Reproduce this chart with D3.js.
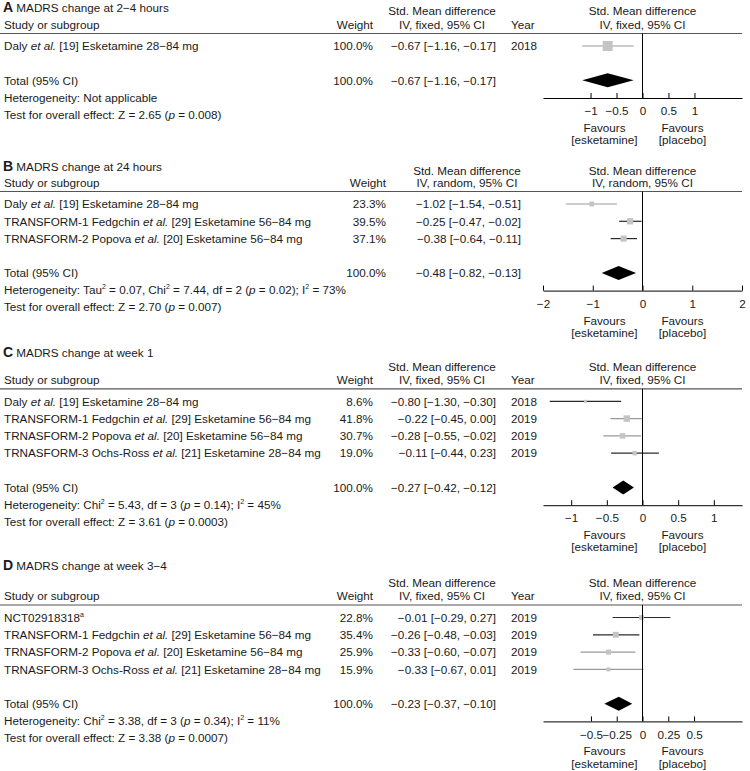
<!DOCTYPE html>
<html>
<head>
<meta charset="utf-8">
<script src="https://cdn.jsdelivr.net/npm/d3@7"></script>
<style>
  body { margin: 0; background: #fff; }
  svg  { display: block; font-family: "Liberation Sans", Arial, sans-serif; font-size: 11.7px; fill: #1a1a1a; }
</style>
</head>
<body>
<svg id="chart" width="750" height="771"></svg>
<script>
// ---- data ----
// *text* = italic, ^text^ = superscript
const titleA   = 'MADRS change at 2−4 hours';
const studiesA = ['Daly *et al.* [19] Esketamine 28−84 mg'];
const weightsA = [100.0];
const smdA     = [-0.67];
const lowA     = [-1.16];
const highA    = [-0.17];
const yearsA   = [2018];
const totalA   = [100.0, -0.67, -1.16, -0.17];   // weight, estimate, low, high
const hetA     = 'Heterogeneity: Not applicable';
const testA    = 'Test for overall effect: Z = 2.65 (*p* = 0.008)';
const ticksA   = [-1, -0.5, 0, 0.5, 1];

const titleB   = 'MADRS change at 24 hours';
const studiesB = ['Daly *et al.* [19] Esketamine 28−84 mg',
                  'TRANSFORM-1 Fedgchin *et al.* [29] Esketamine 56−84 mg',
                  'TRNASFORM-2 Popova *et al.* [20] Esketamine 56−84 mg'];
const weightsB = [23.3, 39.5, 37.1];
const smdB     = [-1.02, -0.25, -0.38];
const lowB     = [-1.54, -0.47, -0.64];
const highB    = [-0.51, -0.02, -0.11];
const totalB   = [100.0, -0.48, -0.82, -0.13];
const hetB     = 'Heterogeneity: Tau^2^ = 0.07, Chi^2^ = 7.44, df = 2 (*p* = 0.02); I^2^ = 73%';
const testB    = 'Test for overall effect: Z = 2.70 (*p* = 0.007)';
const ticksB   = [-2, -1, 0, 1, 2];

const titleC   = 'MADRS change at week 1';
const studiesC = ['Daly *et al.* [19] Esketamine 28−84 mg',
                  'TRANSFORM-1 Fedgchin *et al.* [29] Esketamine 56−84 mg',
                  'TRNASFORM-2 Popova *et al.* [20] Esketamine 56−84 mg',
                  'TRNASFORM-3 Ochs-Ross *et al.* [21] Esketamine 28−84 mg'];
const weightsC = [8.6, 41.8, 30.7, 19.0];
const smdC     = [-0.80, -0.22, -0.28, -0.11];
const lowC     = [-1.30, -0.45, -0.55, -0.44];
const highC    = [-0.30, 0.00, -0.02, 0.23];
const yearsC   = [2018, 2019, 2019, 2019];
const totalC   = [100.0, -0.27, -0.42, -0.12];
const hetC     = 'Heterogeneity: Chi^2^ = 5.43, df = 3 (*p* = 0.14); I^2^ = 45%';
const testC    = 'Test for overall effect: Z = 3.61 (*p* = 0.0003)';
const ticksC   = [-1, -0.5, 0, 0.5, 1];

const titleD   = 'MADRS change at week 3−4';
const studiesD = ['NCT02918318^a^',
                  'TRANSFORM-1 Fedgchin *et al.* [29] Esketamine 56−84 mg',
                  'TRNASFORM-2 Popova *et al.* [20] Esketamine 56−84 mg',
                  'TRNASFORM-3 Ochs-Ross *et al.* [21] Esketamine 28−84 mg'];
const weightsD = [22.8, 35.4, 25.9, 15.9];
const smdD     = [-0.01, -0.26, -0.33, -0.33];
const lowD     = [-0.29, -0.48, -0.60, -0.67];
const highD    = [0.27, -0.03, -0.07, 0.01];
const yearsD   = [2019, 2019, 2019, 2019];
const totalD   = [100.0, -0.23, -0.37, -0.10];
const hetD     = 'Heterogeneity: Chi^2^ = 3.38, df = 3 (*p* = 0.34); I^2^ = 11%';
const testD    = 'Test for overall effect: Z = 3.38 (*p* = 0.0007)';
const ticksD   = [-0.5, -0.25, 0, 0.25, 0.5];

// ---- layout / style per panel ----
const panels = [
  { letter: 'A', title: titleA, studies: studiesA, weights: weightsA, smd: smdA, low: lowA, high: highA,
    years: yearsA, total: totalA, het: hetA, test: testA, ticks: ticksA, method: 'IV, fixed, 95% CI',
    domain: [-1.915, 1.915], titleY: 7.5, hdrY: 10.5, sep: 33.5, wRight: 373, ciRight: 496, ciMid: 442,
    greyCI: [0] },
  { letter: 'B', title: titleB, studies: studiesB, weights: weightsB, smd: smdB, low: lowB, high: highB,
    years: null, total: totalB, het: hetB, test: testB, ticks: ticksB, method: 'IV, random, 95% CI',
    domain: [-2, 2], titleY: 166.7, hdrY: 170.5, sep: 191.5, wRight: 386, ciRight: 521, ciMid: 467,
    greyCI: [0] },
  { letter: 'C', title: titleC, studies: studiesC, weights: weightsC, smd: smdC, low: lowC, high: highC,
    years: yearsC, total: totalC, het: hetC, test: testC, ticks: ticksC, method: 'IV, fixed, 95% CI',
    domain: [-1.395, 1.395], titleY: 353, hdrY: 366.5, sep: 388.8, wRight: 373, ciRight: 496, ciMid: 442,
    greyCI: [1, 2] },
  { letter: 'D', title: titleD, studies: studiesD, weights: weightsD, smd: smdD, low: lowD, high: highD,
    years: yearsD, total: totalD, het: hetD, test: testD, ticks: ticksD, method: 'IV, fixed, 95% CI',
    domain: [-0.965, 0.965], titleY: 566, hdrY: 583, sep: 605, wRight: 373, ciRight: 496, ciMid: 442,
    greyCI: [2, 3] }
];

const PLOT = [543, 742];   // forest plot span
const YEAR_X = 511;
const BASE = 4.2;          // centre -> baseline

const f2 = d3.format('.2f');
const f1 = d3.format('.1f');
const ciText = (e, l, h) => `${f2(e)} [${f2(l)}, ${f2(h)}]`;

// italic / superscript markup -> tspans
function rich(sel, str) {
  const parts = str.split(/(\*[^*]+\*|\^[^^]+\^)/).filter(s => s.length);
  let lift = 0;
  parts.forEach(p => {
    const t = sel.append('tspan');
    if (p[0] === '^') {
      t.text(p.slice(1, -1)).attr('font-size', 7).attr('dy', -5);
      lift = 5;
      return;
    }
    if (p[0] === '*') t.text(p.slice(1, -1)).attr('font-style', 'italic');
    else t.text(p);
    if (lift) { t.attr('dy', lift); lift = 0; }
  });
  return sel;
}

function label(g, x, y, str, anchor = 'start') {
  return rich(g.append('text').attr('x', x).attr('y', y + BASE).attr('text-anchor', anchor), str);
}

const svg = d3.select('#chart');

panels.forEach(p => {
  const g = svg.append('g');
  const n = p.studies.length;

  const x    = d3.scaleLinear().domain(p.domain).range(PLOT);
  const rowY = d3.scaleLinear().domain([0, 1]).range([p.sep + 12.5, p.sep + 29.8]);
  const box  = d3.scaleSqrt().domain([0, 100]).range([0, 10]);

  const totalY = rowY(n - 1) + 34.3;
  const hetY   = totalY + 17;
  const axisY  = totalY + 17.7;
  const hdr2   = p.sep - 9;

  // title
  const t = g.append('text').attr('x', 3).attr('y', p.titleY + BASE);
  t.append('tspan').attr('font-weight', 'bold').attr('font-size', 14).text(p.letter);
  t.append('tspan').text(' ' + p.title);

  // headers
  label(g, 4, hdr2, 'Study or subgroup');
  label(g, p.wRight, hdr2, 'Weight', 'end');
  label(g, p.ciMid, p.hdrY, 'Std. Mean difference', 'middle');
  label(g, p.ciMid, hdr2, p.method, 'middle');
  if (p.years) label(g, YEAR_X, hdr2, 'Year');
  label(g, x(0), p.hdrY, 'Std. Mean difference', 'middle');
  label(g, x(0), hdr2, p.method, 'middle');

  g.append('line')
    .attr('x1', 0).attr('x2', PLOT[1])
    .attr('y1', p.sep).attr('y2', p.sep)
    .attr('stroke', '#555').attr('stroke-width', 1.2);

  // study rows
  p.studies.forEach((s, i) => {
    const y = rowY(i);
    label(g, 4, y, s);
    label(g, p.wRight, y, f1(p.weights[i]) + '%', 'end');
    label(g, p.ciRight, y, ciText(p.smd[i], p.low[i], p.high[i]), 'end');
    if (p.years) label(g, YEAR_X, y, String(p.years[i]));

    g.append('line')
      .attr('x1', x(p.low[i])).attr('x2', x(p.high[i]))
      .attr('y1', y).attr('y2', y)
      .attr('stroke', p.greyCI.includes(i) ? '#9a9a9a' : '#2a2a2a')
      .attr('stroke-width', 1.2);
    const b = box(p.weights[i]);
    g.append('rect')
      .attr('x', x(p.smd[i]) - b / 2).attr('y', y - b / 2)
      .attr('width', b).attr('height', b)
      .attr('fill', '#c4c4c4');
  });

  // total row
  const [tw, te, tl, th] = p.total;
  label(g, 4, totalY, 'Total (95% CI)');
  label(g, p.wRight, totalY, f1(tw) + '%', 'end');
  label(g, p.ciRight, totalY, ciText(te, tl, th), 'end');
  g.append('path')
    .attr('d', d3.line()([[x(tl), totalY], [x(te), totalY - 7], [x(th), totalY], [x(te), totalY + 7]]) + 'Z')
    .attr('fill', '#000');

  label(g, 4, hetY, p.het);
  label(g, 4, hetY + 17, p.test);

  // zero line
  g.append('line')
    .attr('x1', x(0)).attr('x2', x(0))
    .attr('y1', p.sep).attr('y2', axisY)
    .attr('stroke', '#000').attr('stroke-width', 1);

  // axis
  const ax = g.append('g')
    .attr('transform', `translate(0,${axisY})`)
    .call(d3.axisBottom(x).tickValues(p.ticks).tickFormat(d3.format('~g'))
      .tickSize(-5).tickSizeOuter(0).tickPadding(9));
  ax.attr('font-size', null).attr('font-family', null);
  ax.selectAll('path, line').attr('stroke', '#000');
  ax.selectAll('text').attr('fill', '#1a1a1a').style('font-size', '11.7px');

  label(g, x(0) - 38, axisY + 29.8, 'Favours', 'middle');
  label(g, x(0) - 38, axisY + 42, '[esketamine]', 'middle');
  label(g, x(0) + 40, axisY + 29.8, 'Favours', 'middle');
  label(g, x(0) + 40, axisY + 42, '[placebo]', 'middle');
});
</script>
</body>
</html>
